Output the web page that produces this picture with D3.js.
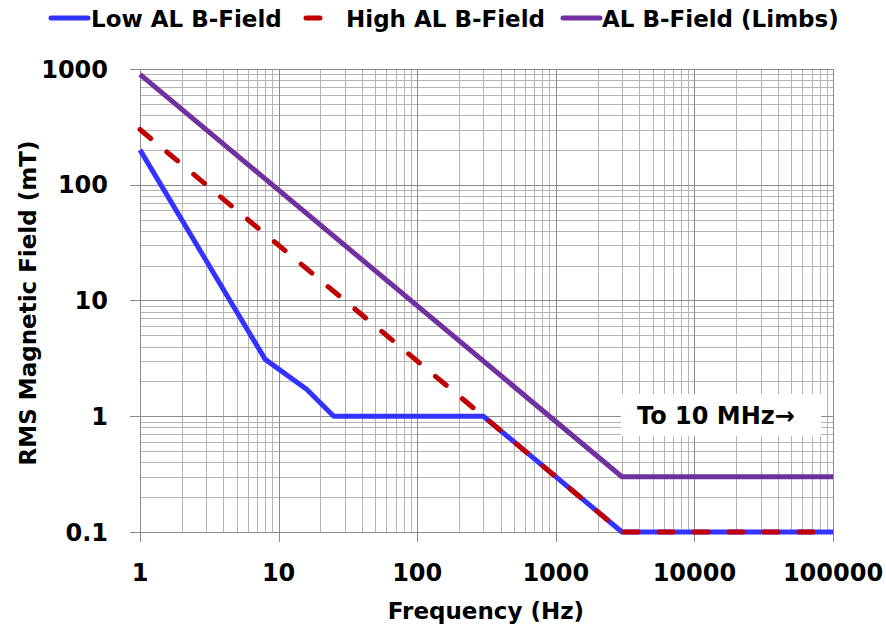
<!DOCTYPE html>
<html>
<head>
<meta charset="utf-8">
<script src="https://cdn.jsdelivr.net/npm/d3@7"></script>
<style>
  body { margin: 0; background: #fff; }
  text { font-family: "DejaVu Sans", sans-serif; font-weight: bold; fill: #000; }
</style>
</head>
<body>
<div id="chart"></div>
<script>
// Datos (frecuencia en Hz, campo en mT)
const lowAL = [[1, 200], [8, 3.1], [16, 1.7], [25, 1], [300, 1], [3000, 0.1], [100000, 0.1]];
const highAL = [[1, 300], [3000, 0.1], [100000, 0.1]];
const limbsAL = [[1, 900], [3000, 0.3], [100000, 0.3]];

const xTicks = [1, 10, 100, 1000, 10000, 100000];
const yTicks = [0.1, 1, 10, 100, 1000];

const series = [
  { name: "Low AL B-Field", data: lowAL, color: "#3333FF", dash: null },
  { name: "High AL B-Field", data: highAL, color: "#C00000", dash: "14,21" },
  { name: "AL B-Field (Limbs)", data: limbsAL, color: "#7030A0", dash: null }
];

const width = 886, height = 635;
const plot = { left: 140, right: 833, top: 69, bottom: 532 };

const svg = d3.select("#chart").append("svg")
  .attr("width", width)
  .attr("height", height);

const x = d3.scaleLog().domain([1, 100000]).range([plot.left, plot.right]);
const y = d3.scaleLog().domain([0.1, 1000]).range([plot.bottom, plot.top]);

// Rejilla menor (2..9 de cada década)
const minorX = [], minorY = [];
xTicks.slice(0, -1).forEach(d => { for (let k = 2; k < 10; k++) minorX.push(d * k); });
yTicks.slice(0, -1).forEach(d => { for (let k = 2; k < 10; k++) minorY.push(d * k); });

const grid = svg.append("g").attr("shape-rendering", "crispEdges");
grid.selectAll("line.mx").data(minorX).join("line")
  .attr("x1", d => Math.round(x(d)) + 0.5).attr("x2", d => Math.round(x(d)) + 0.5)
  .attr("y1", plot.top).attr("y2", plot.bottom)
  .attr("stroke", "#b4b4b4");
grid.selectAll("line.my").data(minorY).join("line")
  .attr("y1", d => Math.round(y(d)) + 0.5).attr("y2", d => Math.round(y(d)) + 0.5)
  .attr("x1", plot.left).attr("x2", plot.right)
  .attr("stroke", "#b4b4b4");

// Rejilla mayor con marcas hacia fuera
grid.selectAll("line.Mx").data(xTicks).join("line")
  .attr("x1", d => Math.round(x(d)) + 0.5).attr("x2", d => Math.round(x(d)) + 0.5)
  .attr("y1", plot.top).attr("y2", plot.bottom + 10)
  .attr("stroke", "#8c8c8c");
grid.selectAll("line.My").data(yTicks).join("line")
  .attr("y1", d => Math.round(y(d)) + 0.5).attr("y2", d => Math.round(y(d)) + 0.5)
  .attr("x1", plot.left - 10).attr("x2", plot.right)
  .attr("stroke", "#8c8c8c");

// Recuadro "To 10 MHz"
svg.append("rect")
  .attr("x", 621).attr("y", 394).attr("width", 200).attr("height", 42)
  .attr("fill", "#fff");
svg.append("text")
  .attr("x", 716).attr("y", 424)
  .attr("text-anchor", "middle")
  .attr("font-size", 24)
  .text("To 10 MHz\u2192");

// Líneas
const line = d3.line().x(d => x(d[0])).y(d => y(d[1]));
svg.append("g")
  .attr("fill", "none")
  .selectAll("path")
  .data(series)
  .join("path")
  .attr("d", d => line(d.data))
  .attr("stroke", d => d.color)
  .attr("stroke-width", 5)
  .attr("stroke-linejoin", "round")
  .attr("stroke-linecap", d => d.dash ? "round" : "butt")
  .attr("stroke-dasharray", d => d.dash);

// Etiquetas de ejes
svg.append("g").selectAll("text").data(yTicks).join("text")
  .attr("x", 108).attr("y", d => y(d))
  .attr("dy", "0.36em")
  .attr("text-anchor", "end")
  .attr("font-size", 24)
  .text(d => d3.format("~g")(d));

svg.append("g").selectAll("text").data(xTicks).join("text")
  .attr("x", d => x(d)).attr("y", 581)
  .attr("text-anchor", "middle")
  .attr("font-size", 24)
  .text(d => d);

svg.append("text")
  .attr("x", 486).attr("y", 619)
  .attr("text-anchor", "middle")
  .attr("font-size", 23)
  .text("Frequency (Hz)");

svg.append("text")
  .attr("transform", "translate(36,303) rotate(-90)")
  .attr("text-anchor", "middle")
  .attr("font-size", 23)
  .text("RMS Magnetic Field (mT)");

// Leyenda
const legendPos = [
  { x1: 51, x2: 88, tx: 91 },
  { x1: 306, x2: 320, tx: 346 },
  { x1: 563, x2: 600, tx: 602 }
];
const legend = svg.append("g").selectAll("g").data(series).join("g");
legend.append("line")
  .attr("x1", (d, i) => legendPos[i].x1).attr("x2", (d, i) => legendPos[i].x2)
  .attr("y1", 18).attr("y2", 18)
  .attr("stroke", d => d.color)
  .attr("stroke-width", 5)
  .attr("stroke-linecap", "round");
legend.append("text")
  .attr("x", (d, i) => legendPos[i].tx).attr("y", 27)
  .attr("font-size", 23)
  .text(d => d.name);
</script>
</body>
</html>
